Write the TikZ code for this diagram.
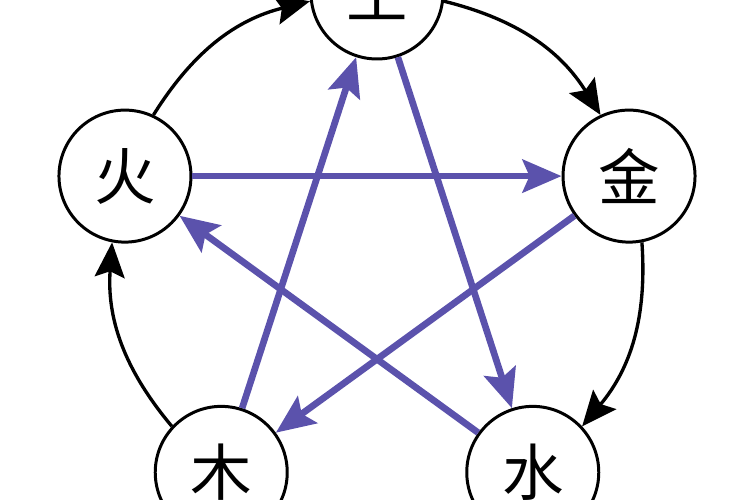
\documentclass[tikz,border=0pt]{standalone}
\usepackage{fontspec}
\newfontfamily\cjk{Noto Sans CJK SC}
\usetikzlibrary{arrows.meta,calc}
\definecolor{violet}{HTML}{5B52AC}

\begin{document}
\begin{tikzpicture}[
    elem/.style={circle,draw,line width=1.7pt,fill=white,minimum size=2.64cm,inner sep=0pt,
      font=\cjk\fontsize{35}{35}\selectfont},
    cyc/.style={line width=1.9pt,-{Stealth[length=7mm,width=6mm,inset=1.2mm]}},
    ke/.style={violet,line width=3.8pt,-{Stealth[length=7.8mm,width=6.6mm,inset=1.4mm]}}]
        \useasboundingbox (0,0) rectangle (15,10);
        \coordinate (ctr) at (7.54,4.84);
        \foreach \n/\a/\t in {tu/90/土,jin/18/金,shui/-54/水,mu/234/木,huo/162/火}
          \node[elem] (\n) at ($(ctr)+(\a:5.3)$) {\t};
        % outer cycle
        \draw[cyc] (huo.65) to[bend left=22] (tu.187);
        \draw[cyc] (tu.-7) to[bend left=22] (jin.115);
        \draw[cyc] (jin.-79) to[bend left=22] (shui.43);
        \draw[cyc] (mu.137) to[bend left=22] (huo.259);
        % inner star
        \draw[ke] (huo) -- (jin);
        \draw[ke] (jin) -- (mu);
        \draw[ke] (mu) -- (tu);
        \draw[ke] (tu) -- (shui);
        \draw[ke] (shui) -- (huo);
      \end{tikzpicture}
\end{document}
